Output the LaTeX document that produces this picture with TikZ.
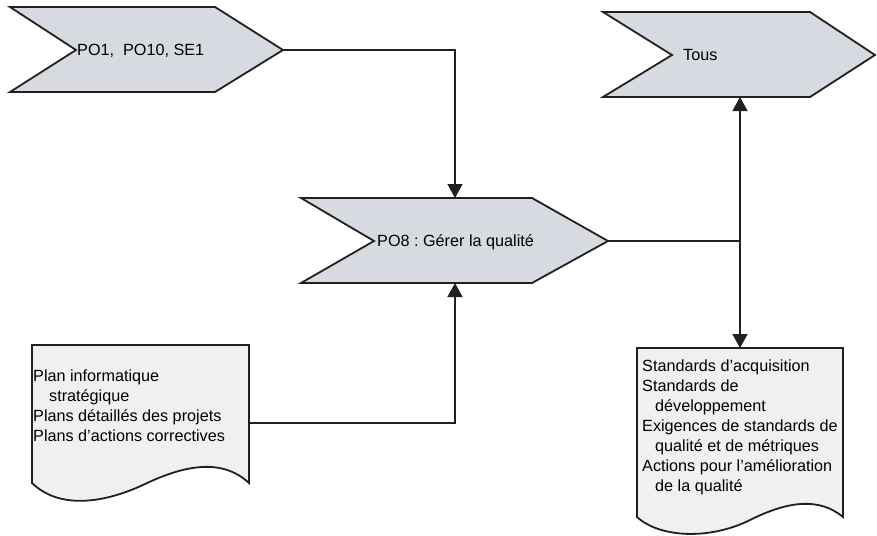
\documentclass[tikz,border=0pt]{standalone}
\usepackage{fontspec}
\setmainfont{Liberation Sans}
\frenchspacing
\usetikzlibrary{arrows.meta}
\definecolor{ink}{RGB}{35,31,32}
\definecolor{chevfill}{RGB}{215,218,225}
\definecolor{docfill}{RGB}{238,240,241}
\tikzset{chev/.style = {draw=ink, fill=chevfill, line width=1.8pt, line join=miter}}
\tikzset{doc/.style = {draw=ink, fill=docfill, line width=1.8pt}}
\tikzset{lbl/.style = {inner sep=0, anchor=base west, font=\fontsize{16.2}{20}\selectfont}}
\tikzset{txt/.style = {inner sep=0, anchor=north west, align=left, font=\fontsize{16.2}{20}\selectfont}}
\tikzset{wire/.style = {draw=ink, line width=1.5pt}}
\tikzset{flow/.style = {wire, -{Triangle[width=15pt, length=14pt]}}}
\tikzset{dflow/.style = {wire, {Triangle[width=15pt, length=14pt]}-{Triangle[width=15pt, length=14pt]}}}

\begin{document}
\begin{tikzpicture}[x=1pt, y=-1pt]
  \useasboundingbox (0,0) rectangle (877,535);

  % inputs
  \draw [chev] (10,7) -- (215,7) -- (283,50) coordinate (po1 tip) -- (215,92) -- (10,92) -- (76,50) -- cycle;
  \node [lbl] (po1) at (77,55.8) {PO1,\ \ PO10, SE1};

  % process
  \draw [chev] (301,198) -- (455,198) coordinate (po8 top) -- (532,198) -- (608,241) coordinate (po8 tip)
        -- (532,283) -- (455,283) coordinate (po8 bottom) -- (301,283) -- (374,241) -- cycle;
  \node [lbl] (po8) at (377,246.7) {PO8 : Gérer la qualité};

  % outputs
  \draw [chev] (603,12) -- (740,12) -- (810,12) -- (875,55) -- (810,97) -- (740,97) coordinate (tous bottom)
        -- (603,97) -- (672,55) -- cycle;
  \node [lbl] (tous) at (683,60) {Tous};

  % documents
  \draw [doc] (32,345) -- (249,345) -- (249,423) coordinate (plans out) -- (249,483)
        .. controls (222,458) and (185,465) .. (145,484)
        .. controls (105,503) and (60,510) .. (32,483) -- cycle;
  \node [txt] (plans) at (33,369.3) {Plan informatique\\\hspace*{16pt}stratégique\\Plans détaillés des projets\\Plans d’actions correctives};

  \draw [doc] (637,348) -- (740,348) coordinate (stds top) -- (843,348) -- (843,517)
        .. controls (820,498) and (790,500) .. (750,520)
        .. controls (710,540) and (660,538) .. (637,517) -- cycle;
  \node [txt] (stds) at (642,359.8) {Standards d’acquisition\\Standards de\\\hspace*{13pt}développement\\Exigences de standards de\\\hspace*{13pt}qualité et de métriques\\Actions pour l’amélioration\\\hspace*{13pt}de la qualité};

  % connectors
  \draw [flow] (po1 tip) -| (po8 top);
  \draw [flow] (plans out) -| (po8 bottom);
  \draw [wire] (po8 tip) -- (po8 tip -| tous bottom);
  \draw [dflow] (tous bottom) -- (stds top);
\end{tikzpicture}
\end{document}
